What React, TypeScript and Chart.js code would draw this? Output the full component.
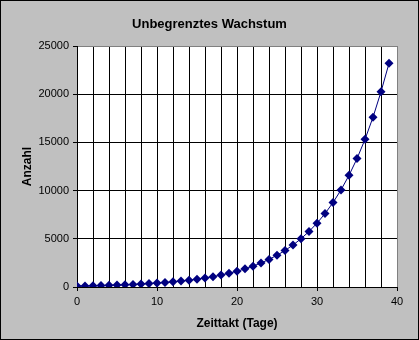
import React, { useEffect, useRef } from "react";
import { Chart, registerables } from "chart.js";

Chart.register(...registerables);

const days: number[] = [
  0, 1, 2, 3, 4, 5, 6, 7, 8, 9, 10, 11, 12, 13, 14, 15, 16, 17, 18, 19,
  20, 21, 22, 23, 24, 25, 26, 27, 28, 29, 30, 31, 32, 33, 34, 35, 36, 37, 38, 39,
];
const anzahl: number[] = [
  100, 115, 132, 152, 175, 201, 231, 266, 306, 352, 405, 465, 535, 615, 708,
  814, 936, 1076, 1238, 1423, 1637, 1882, 2164, 2489, 2863, 3292, 3786, 4354,
  5007, 5758, 6621, 7614, 8757, 10070, 11581, 13318, 15315, 17613, 20254, 23200,
];
const xLabels: number[] = [0, 10, 20, 30, 40];
const chartTitle = "Unbegrenztes Wachstum";

const FONT = "'Liberation Sans', Arial, sans-serif";

export default function App() {
  const ref = useRef<HTMLCanvasElement | null>(null);

  useEffect(() => {
    document.body.style.margin = "0";
    const canvas = ref.current;
    if (!canvas) return;
    const chart = new Chart(canvas, {
      type: "line",
      data: {
        datasets: [
          {
            label: "Anzahl",
            data: days.map((d, i) => ({ x: d, y: anzahl[i] })),
            borderColor: "#000080",
            backgroundColor: "#000080",
            borderWidth: 1,
            pointStyle: "rectRot",
            pointRadius: 4.5,
            pointBorderWidth: 0,
            pointBackgroundColor: "#000080",
            tension: 0,
          },
        ],
      },
      options: {
        animation: false,
        responsive: false,
        devicePixelRatio: 1,
        layout: { padding: { left: 0, right: 22, top: 46, bottom: 0 } },
        plugins: {
          legend: { display: false },
          tooltip: { enabled: false },
          title: { display: false },
        },
        scales: {
          x: {
            type: "linear",
            min: 0,
            max: 40,
            afterFit: (s: any) => {
              s.height = 53;
            },
            ticks: {
              stepSize: 2,
              color: "#000",
              font: { family: FONT, size: 11 },
              padding: 4,
              maxRotation: 0,
              autoSkip: false,
              callback: (v: any) => (xLabels.includes(Number(v)) ? String(v) : ""),
            },
            grid: {
              color: (c: any) => (c.tick && c.tick.value === 40 ? "#808080" : "#000"),
              tickColor: (c: any) =>
                c.tick && xLabels.includes(c.tick.value) ? "#000" : "rgba(0,0,0,0)",
              tickLength: 4,
              lineWidth: 1,
            },
            border: { color: "#000", width: 1 },
            title: {
              display: true,
              text: "Zeittakt (Tage)",
              color: "#000",
              font: { family: FONT, size: 12, weight: "bold" },
              padding: { top: 4, bottom: 9 },
            },
          },
          y: {
            type: "linear",
            min: 0,
            max: 25000,
            afterFit: (s: any) => {
              s.width = 77;
            },
            ticks: {
              stepSize: 5000,
              color: "#000",
              font: { family: FONT, size: 11 },
              padding: 4,
              callback: (v: any) => String(v),
            },
            grid: {
              color: (c: any) => (c.tick && c.tick.value === 25000 ? "#808080" : "#000"),
              tickColor: "#000",
              tickLength: 4,
              lineWidth: 1,
            },
            border: { color: "#000", width: 1 },
            title: {
              display: true,
              text: "Anzahl",
              color: "#000",
              font: { family: FONT, size: 12, weight: "bold" },
              padding: { top: 20, bottom: 4 },
            },
          },
        },
      },
      plugins: [
        {
          id: "plotBg",
          beforeDraw: (c: any) => {
            const { ctx, chartArea } = c;
            ctx.save();
            ctx.fillStyle = "#fff";
            ctx.fillRect(
              chartArea.left,
              chartArea.top,
              chartArea.right - chartArea.left,
              chartArea.bottom - chartArea.top
            );
            ctx.restore();
          },
        },
        {
          id: "centerTitle",
          afterDraw: (c: any) => {
            const { ctx } = c;
            ctx.save();
            ctx.fillStyle = "#000";
            ctx.font = `bold 13px ${FONT}`;
            ctx.textAlign = "center";
            ctx.textBaseline = "middle";
            ctx.fillText(chartTitle, c.width / 2, 24);
            ctx.restore();
          },
        },
      ],
    } as any);
    return () => chart.destroy();
  }, []);

  return (
    <div
      style={{
        position: "absolute",
        left: 0,
        top: 0,
        width: 419,
        height: 340,
        boxSizing: "border-box",
        background: "#C0C0C0",
      }}
    >
      <canvas ref={ref} width={419} height={340} style={{ display: "block", width: 419, height: 340 }} />
      <div
        style={{
          position: "absolute",
          left: 0,
          top: 0,
          width: 419,
          height: 340,
          boxSizing: "border-box",
          border: "1px solid #000",
          pointerEvents: "none",
        }}
      />
    </div>
  );
}
